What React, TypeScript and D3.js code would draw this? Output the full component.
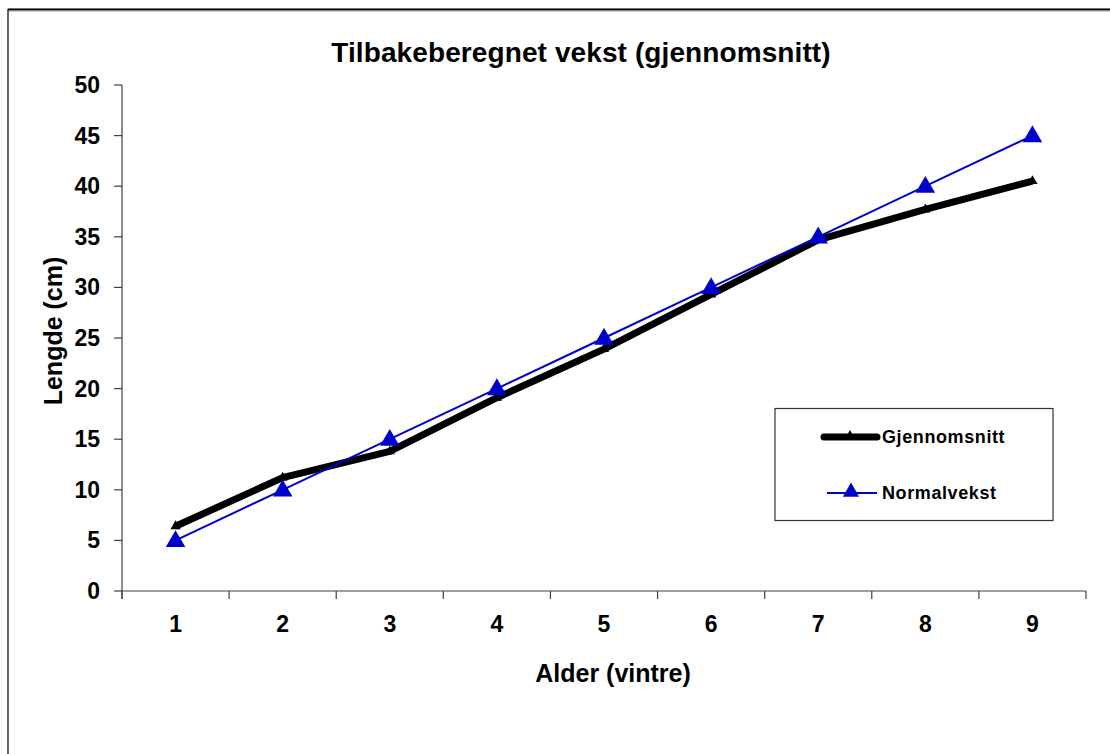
import React from "react";
import * as d3 from "d3";

const categories = ["1", "2", "3", "4", "5", "6", "7", "8", "9"];
const gjennomsnitt = [6.4, 11.2, 13.8, 19.1, 23.9, 29.3, 34.7, 37.7, 40.5];
const normalvekst = [5, 10, 15, 20, 25, 30, 35, 40, 45];
const yTicks = [0, 5, 10, 15, 20, 25, 30, 35, 40, 45, 50];
const seriesNames = ["Gjennomsnitt", "Normalvekst"];
const title = "Tilbakeberegnet vekst (gjennomsnitt)";
const xTitle = "Alder (vintre)";
const yTitle = "Lengde (cm)";

const W = 1110;
const H = 754;
const FONT = "'Liberation Sans', Arial, sans-serif";

export default function App() {
  const x = d3.scaleBand<string>().domain(categories).range([122, 1086]).paddingInner(0).paddingOuter(0);
  const y = d3.scaleLinear().domain([0, 50]).range([591, 85]);
  const cx = (c: string) => (x(c) as number) + x.bandwidth() / 2;

  const line = d3
    .line<number>()
    .x((_, i) => cx(categories[i]))
    .y((d) => y(d));

  const triBig = d3.symbol().type(d3.symbolTriangle).size(165)() as string;
  const triSmall = d3.symbol().type(d3.symbolTriangle).size(45)() as string;
  const triLegend = d3.symbol().type(d3.symbolTriangle).size(115)() as string;

  const axisColor = "#404040";
  const blue = "#0000cc";

  const boundaries = categories.map((c) => x(c) as number).concat([x.range()[1]]);

  return (
    <svg width={W} height={H} style={{ position: "absolute", left: 0, top: 0, background: "#fff" }}>
      <rect x={0} y={0} width={W} height={H} fill="#fff" />
      {/* chart frame */}
      <rect x={8} y={9.5} width={W + 20} height={H + 20} fill="none" stroke="#000" strokeWidth={1.2} />
      <line x1={8} x2={W} y1={9.5} y2={9.5} stroke="#000" strokeWidth={2} />
      <line x1={9} x2={W} y1={11} y2={11} stroke="#999" strokeWidth={1} />

      {/* title */}
      <text x={581} y={62} textAnchor="middle" fontFamily={FONT} fontWeight="bold" fontSize={28} letterSpacing={0.1} fill="#000">
        {title}
      </text>

      {/* y axis */}
      <line x1={122} x2={122} y1={y(50)} y2={599} stroke={axisColor} strokeWidth={1.2} />
      {yTicks.map((t) => (
        <g key={t}>
          <line x1={114} x2={122} y1={y(t)} y2={y(t)} stroke={axisColor} strokeWidth={1.2} />
          <text x={100} y={y(t) + 8} textAnchor="end" fontFamily={FONT} fontWeight="bold" fontSize={23} fill="#000">
            {t}
          </text>
        </g>
      ))}

      {/* x axis */}
      <line x1={122} x2={1086} y1={y(0)} y2={y(0)} stroke={axisColor} strokeWidth={1.2} />
      {boundaries.map((b, i) => (
        <line key={i} x1={b} x2={b} y1={y(0)} y2={599} stroke={axisColor} strokeWidth={1.2} />
      ))}
      {categories.map((c) => (
        <text key={c} x={cx(c)} y={632} textAnchor="middle" fontFamily={FONT} fontWeight="bold" fontSize={23} fill="#000">
          {c}
        </text>
      ))}

      {/* axis titles */}
      <text x={613} y={682} textAnchor="middle" fontFamily={FONT} fontWeight="bold" fontSize={25} fill="#000">
        {xTitle}
      </text>
      <text
        transform={`translate(62,331) rotate(-90)`}
        textAnchor="middle"
        fontFamily={FONT}
        fontWeight="bold"
        fontSize={25}
        fill="#000"
      >
        {yTitle}
      </text>

      {/* series: Gjennomsnitt */}
      <path d={line(gjennomsnitt) as string} fill="none" stroke="#000" strokeWidth={7} strokeLinejoin="round" />
      {gjennomsnitt.map((v, i) => (
        <path key={i} d={triSmall} transform={`translate(${cx(categories[i])},${y(v)})`} fill="#000" />
      ))}

      {/* series: Normalvekst */}
      <path d={line(normalvekst) as string} fill="none" stroke={blue} strokeWidth={2} />
      {normalvekst.map((v, i) => (
        <path key={i} d={triBig} transform={`translate(${cx(categories[i])},${y(v) + 1})`} fill={blue} />
      ))}

      {/* legend */}
      <rect x={775} y={408.5} width={278} height={112} fill="#fff" stroke="#333" strokeWidth={1.2} />
      <line x1={824} x2={877} y1={437} y2={437} stroke="#000" strokeWidth={7} strokeLinecap="round" />
      <path d={triSmall} transform={`translate(850,436)`} fill="#000" />
      <text x={882} y={443} fontFamily={FONT} fontWeight="bold" fontSize={18} letterSpacing={0.6} fill="#000">
        {seriesNames[0]}
      </text>
      <line x1={827} x2={877} y1={493} y2={493} stroke={blue} strokeWidth={2} />
      <path d={triLegend} transform={`translate(851,492)`} fill={blue} />
      <text x={882} y={499} fontFamily={FONT} fontWeight="bold" fontSize={18} letterSpacing={0.6} fill="#000">
        {seriesNames[1]}
      </text>
    </svg>
  );
}
